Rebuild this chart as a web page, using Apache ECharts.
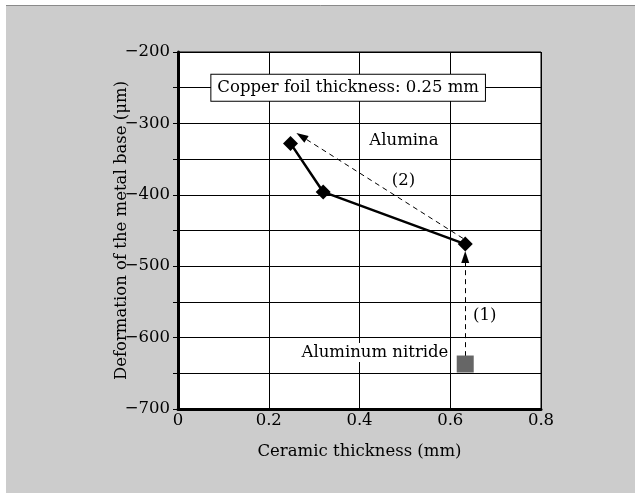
<!DOCTYPE html>
<html><head><meta charset="utf-8">
<script src="https://cdn.jsdelivr.net/npm/echarts@6/dist/echarts.min.js"></script>
<style>html,body{margin:0;padding:0;background:#fff;}#c{width:635px;height:493px;}</style>
</head><body><div id="c"></div>
<script>
var aluminaX = [0.248, 0.32, 0.633];
var aluminaY = [-328, -396, -469];
var alnX = [0.633];
var alnY = [-637];
var arrow1 = [[0.633, -626], [0.633, -487]];
var arrow2 = [[0.628, -461], [0.272, -318]];
var noteText = ['Copper foil thickness: 0.25 mm', 'Alumina', '(2)', '(1)', 'Aluminum nitride'];
var noteX = [0.375, 0.498, 0.497, 0.676, 0.434];
var noteY = [-250, -324, -380, -570, -621];
var yTicks = [-700, -600, -500, -400, -300, -200];
var xTicks = [0, 0.2, 0.4, 0.6, 0.8];

var font = '"DejaVu Serif", serif';
var chart = echarts.init(document.getElementById('c'));
function minus(v){ return String(v).replace('-', '\u2212'); }
var notes = noteText.map(function(t,i){
  var d = {name: t, value: [noteX[i], noteY[i]]};
  if (i === 0) d.label = {backgroundColor: '#fff', borderColor: '#000', borderWidth: 1, padding: [5, 6, 4, 6], fontSize: 16.5};
  if (i === 4) d.label = {backgroundColor: '#fff', padding: [1, 1]};
  return d;
});
chart.setOption({
  backgroundColor: '#fff',
  animation: false,
  graphic: [
    {type: 'rect', left: 6, top: 5, shape: {width: 629, height: 488}, style: {fill: '#cccccc'}, z: -10},
    {type: 'line', shape: {x1: 6, y1: 5.5, x2: 635, y2: 5.5}, style: {stroke: '#8a8a8a', lineWidth: 1}, z: -9}
  ],
  grid: {left: 178, right: 94, top: 52, bottom: 84, show: true, backgroundColor: '#fff', borderColor: '#000', borderWidth: 1},
  xAxis: {
    type: 'value', min: 0, max: 0.8, interval: 0.2,
    name: 'Ceramic thickness (mm)', nameLocation: 'middle', nameGap: 34, nameMoveOverlap: false,
    nameTextStyle: {fontFamily: font, fontSize: 16.5, color: '#000'},
    axisLine: {lineStyle: {color: '#000', width: 3}},
    axisTick: {show: false},
    axisLabel: {fontFamily: font, fontSize: 16.5, color: '#000', margin: 3,
      formatter: function(v){ return xTicks.indexOf(Math.round(v*10)/10) >= 0 ? String(Math.round(v*10)/10) : ''; }},
    splitLine: {lineStyle: {color: '#000', width: 1}}
  },
  yAxis: {
    type: 'value', min: -700, max: -200, interval: 50,
    name: 'Deformation of the metal base (\u03bcm)', nameLocation: 'middle', nameGap: 48, nameMoveOverlap: false,
    nameTextStyle: {fontFamily: font, fontSize: 16.5, color: '#000'},
    axisLine: {lineStyle: {color: '#000', width: 3}},
    axisTick: {show: true, inside: false, length: 5, lineStyle: {color: '#000'}},
    axisLabel: {fontFamily: font, fontSize: 16.5, color: '#000', margin: 8,
      formatter: function(v){ return yTicks.indexOf(v) >= 0 ? minus(v) : ''; }},
    splitLine: {lineStyle: {color: '#000', width: 1}}
  },
  series: [
    {
      type: 'line', name: 'Alumina',
      data: aluminaX.map(function(x,i){ return [x, aluminaY[i]]; }),
      symbol: 'diamond', symbolSize: 15, showAllSymbol: true,
      lineStyle: {color: '#000', width: 2.5}, itemStyle: {color: '#000', opacity: 1},
      z: 5,
      markLine: {
        silent: true, symbol: ['none', 'triangle'], symbolSize: [8, 12],
        label: {show: false},
        lineStyle: {color: '#000', type: [5, 4], width: 1, opacity: 1},
        data: [
          [{coord: arrow1[0]}, {coord: arrow1[1]}],
          [{coord: arrow2[0]}, {coord: arrow2[1]}]
        ]
      }
    },
    {
      type: 'scatter', name: 'Aluminum nitride',
      data: alnX.map(function(x,i){ return [x, alnY[i]]; }),
      symbol: 'rect', symbolSize: 17, itemStyle: {color: '#666', opacity: 1}, z: 5
    },
    {
      type: 'scatter', name: 'notes', symbolSize: 0, z: 6,
      itemStyle: {opacity: 1},
      data: notes,
      label: {
        show: true, position: 'inside', formatter: '{b}',
        fontFamily: font, fontSize: 16.5, color: '#000'
      }
    }
  ]
});
</script></body></html>
